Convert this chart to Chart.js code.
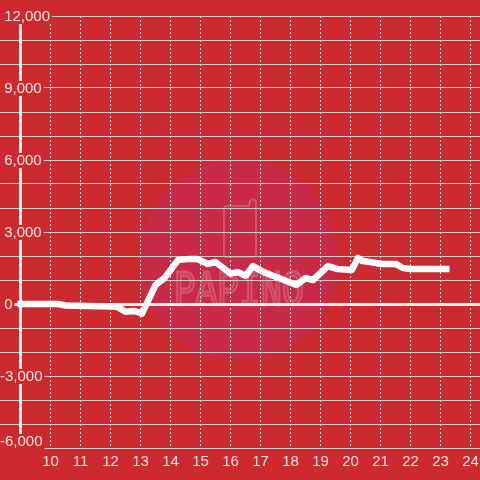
<!DOCTYPE html>
<html>
<head>
<meta charset="utf-8">
<style>
    html, body { margin: 0; padding: 0; background: #CC2A2E; }
    canvas { display: block; }
</style>
<script src="https://cdn.jsdelivr.net/npm/chart.js@4/dist/chart.umd.min.js"></script>
</head>
<body>
<canvas id="chart1" width="480" height="480"></canvas>
<script>
/* ---------------------------------------------------------------------------------------- */
/* DATA                                                                                     */
/* ---------------------------------------------------------------------------------------- */

    var hours  = [8.9, 10.25, 10.5, 12, 12.2, 12.5, 12.8, 13.05, 13.5, 13.8, 14.25, 14.65, 14.9, 15.25, 15.5, 16, 16.25, 16.5, 16.75, 17.1, 18.2, 18.5, 18.75, 19.25, 19.55, 20.05, 20.25, 20.4, 20.65, 21.05, 21.5, 21.75, 22, 23.3];
    var values = [0, 0, -60, -100, -110, -320, -290, -400, 790, 1080, 1830, 1880, 1870, 1670, 1750, 1270, 1330, 1170, 1580, 1330, 790, 1080, 1000, 1580, 1460, 1420, 1920, 1790, 1750, 1670, 1670, 1500, 1460, 1460];

    var xTicks = [10, 11, 12, 13, 14, 15, 16, 17, 18, 19, 20, 21, 22, 23, 24];
    var yGrid  = [-6000, -5000, -4000, -3000, -2000, -1000, 0, 1000, 2000, 3000, 4000, 5000, 6000, 7000, 8000, 9000, 10000, 11000, 12000];
    var yLabels = { '-3000': '-3,000', '0': ' 0', '3000': ' 3,000', '6000': ' 6,000', '9000': ' 9,000', '12000': ' 12,000' };
    var yBottomTick = [-6000];
    var yBottomLabel = '-6,000';

    var RED = '#CC2A2E';
    var LABEL_FONT = { family: '"Liberation Sans"', size: 15 };
    var LABEL_BACK = { top: -1, bottom: -2, left: 2, right: 2 };

/* ---------------------------------------------------------------------------------------- */
/* WATERMARK + BACKGROUND                                                                   */
/* ---------------------------------------------------------------------------------------- */

    var watermark = {
        id: 'watermark',
        beforeDraw: function(chart){
            var c = chart.ctx;
            c.save();
            c.fillStyle = RED;
            c.fillRect(0, 0, 480, 480);

            c.fillStyle = '#C92A46';
            c.beginPath();
            c.arc(239, 260, 100, 0, Math.PI * 2);
            c.fill();

            c.font = 'italic bold 32px "Liberation Sans"';
            c.textAlign = 'center';
            c.textBaseline = 'alphabetic';
            c.fillStyle = '#C92A40';
            c.fillText('Powered by', 242, 145);

            // phone outline
            c.strokeStyle = 'rgba(255,255,255,0.2)';
            c.lineWidth = 2;
            c.beginPath();
            c.moveTo(227, 206);
            c.lineTo(249, 206);
            c.lineTo(250, 201);
            c.quadraticCurveTo(253, 198, 256, 201);
            c.lineTo(256, 254);
            c.quadraticCurveTo(256, 257, 253, 257);
            c.lineTo(227, 257);
            c.quadraticCurveTo(224, 257, 224, 254);
            c.lineTo(224, 209);
            c.quadraticCurveTo(224, 206, 227, 206);
            c.stroke();

            c.save();
            c.translate(239, 305);
            c.scale(1, 1.4);
            c.font = '36px "Liberation Mono"';
            c.lineWidth = 2;
            c.strokeText('PAPINO', 0, 0);
            c.restore();
            c.restore();
        }
    };

/* ---------------------------------------------------------------------------------------- */
/* CHART                                                                                    */
/* ---------------------------------------------------------------------------------------- */

    var chart1 = new Chart(document.getElementById('chart1').getContext('2d'), {
        type: 'line',
        data: {
            datasets: [{
                data: hours.map(function(h, i){ return { x: h, y: values[i] }; }),
                borderColor: '#FFFFFF',
                borderWidth: 6.5,
                borderJoinStyle: 'round',
                pointRadius: 0,
                tension: 0,
                fill: false
            }]
        },
        plugins: [watermark],
        options: {
            responsive: false,
            animation: false,
            layout: { padding: { top: 16, left: 0, right: 0, bottom: 0 } },
            plugins: { legend: { display: false }, tooltip: { enabled: false } },
            scales: {
                x: {
                    type: 'linear',
                    min: 8.3167,
                    max: 24.3167,
                    afterBuildTicks: function(s){ s.ticks = xTicks.map(function(v){ return { value: v }; }); },
                    afterFit: function(s){ s.height = 32; s.paddingLeft = 0; s.paddingRight = 0; },
                    grid: { color: '#DDDDDD', lineWidth: 1, drawTicks: false },
                    border: { display: false, dash: [2, 2] },
                    ticks: {
                        color: '#F4E3E3',
                        font: LABEL_FONT,
                        autoSkip: false,
                        maxRotation: 0,
                        padding: 5
                    }
                },
                y: {
                    min: -6000,
                    max: 12000,
                    afterBuildTicks: function(s){ s.ticks = yGrid.map(function(v){ return { value: v }; }); },
                    afterFit: function(s){ s.width = 0; s.paddingTop = 0; s.paddingBottom = 0; },
                    grid: {
                        drawTicks: false,
                        color: function(ctx){ return ctx.tick && ctx.tick.value === 0 ? '#F5F0F0' : '#C9CCC9'; },
                        lineWidth: function(ctx){ return ctx.tick && ctx.tick.value === 0 ? 3 : 1; }
                    },
                    border: { display: false },
                    ticks: {
                        mirror: true,
                        z: 1,
                        padding: 0,
                        labelOffset: 1,
                        color: '#F4E3E3',
                        font: LABEL_FONT,
                        autoSkip: false,
                        callback: function(v){ return yLabels[v] || ''; },
                        showLabelBackdrop: function(ctx){ return !!yLabels[ctx.tick.value]; },
                        backdropColor: RED,
                        backdropPadding: LABEL_BACK
                    }
                },
                // bottom label sits above its gridline, so it gets its own axis
                yBottom: {
                    position: 'left',
                    min: -6000,
                    max: 12000,
                    afterBuildTicks: function(s){ s.ticks = yBottomTick.map(function(v){ return { value: v }; }); },
                    afterFit: function(s){ s.width = 0; s.paddingTop = 0; s.paddingBottom = 0; },
                    grid: { display: false, drawTicks: false },
                    border: { display: false },
                    ticks: {
                        mirror: true,
                        z: 1,
                        padding: 0,
                        labelOffset: -6,
                        color: '#F4E3E3',
                        font: LABEL_FONT,
                        callback: function(){ return yBottomLabel; },
                        showLabelBackdrop: true,
                        backdropColor: RED,
                        backdropPadding: LABEL_BACK
                    }
                },
                yLine: {
                    position: { x: 9 },
                    min: -6000,
                    max: 12000,
                    grid: { display: false, drawTicks: false },
                    border: { color: '#F0EDED', width: 3 },
                    ticks: { display: false }
                }
            }
        }
    });
</script>
</body>
</html>
